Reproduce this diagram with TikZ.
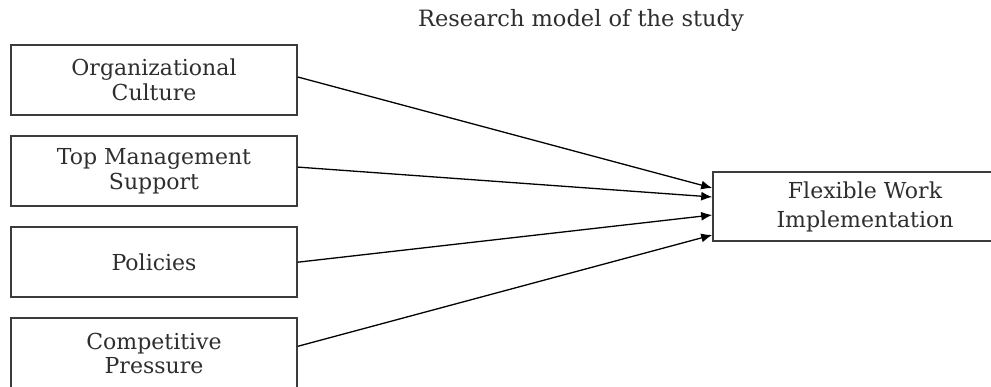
\documentclass[tikz,border=0pt]{standalone}
\usepackage{fontspec}
\setmainfont{DejaVu Serif}
\usetikzlibrary{positioning,arrows.meta}
\definecolor{boxline}{HTML}{3C3C3C}
\definecolor{txt}{HTML}{2E2E2E}
\tikzset{basic/.style={draw=boxline,line width=1.6pt,fill=white,text=txt,align=center,font=\fontsize{22}{24.5}\selectfont}}
\tikzset{factor/.style={basic,rectangle,minimum width=286pt,minimum height=70pt}}
\tikzset{outcome/.style={basic,rectangle,minimum width=304pt,minimum height=69pt,font=\fontsize{22}{29}\selectfont}}
\tikzset{link/.style={draw,line width=1.3pt,-{Latex[length=11pt,width=9pt]}}}

\begin{document}
\begin{tikzpicture}[x=1pt,y=1pt,node distance=19.5pt]
    \useasboundingbox (0,0) rectangle (991,-387);
    \node[text=txt,font=\fontsize{22.5}{24}\selectfont] (title) at (581,-20) {Research model of the study};

    \node[factor] (culture) at (154,-80) {Organizational\\Culture};
    \node[factor,below=of culture] (support) {Top Management\\Support};
    \node[factor,below=of support] (policies) {Policies};
    \node[factor,below=of policies] (pressure) {Competitive\\Pressure};

    \node[outcome] (fwi) at (865,-206.5) {Flexible Work\\Implementation};

    \coordinate (in1) at ([yshift=18.5pt]fwi.west);
    \coordinate (in2) at ([yshift=9.5pt]fwi.west);
    \coordinate (in3) at ([yshift=-8.5pt]fwi.west);
    \coordinate (in4) at ([yshift=-28.5pt]fwi.west);

        \path[link] ([yshift=3pt]culture.east) -- (in1);
        \path[link] ([yshift=4pt]support.east) -- (in2);
        \path[link] (policies.east) -- (in3);
        \path[link] ([yshift=7pt]pressure.east) -- (in4);
      \end{tikzpicture}
\end{document}
